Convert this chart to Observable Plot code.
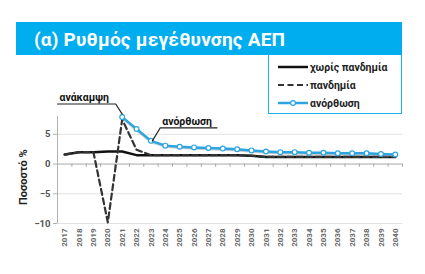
<!DOCTYPE html>
<html>
<head>
<meta charset="utf-8">
<script src="https://cdn.jsdelivr.net/npm/d3@7"></script>
<script src="https://cdn.jsdelivr.net/npm/@observablehq/plot@0.6"></script>
<style>
  html, body { margin: 0; padding: 0; background: #fff; }
  body { width: 425px; height: 274px; position: relative; overflow: hidden; font-family: Roboto, "Noto Sans", sans-serif; }
  #title { position: absolute; left: 16px; top: 22px; width: 368px; height: 33px; background: #00aeef; color: #fff;
           font: bold 19px Roboto, sans-serif; line-height: 35px; padding-left: 18px; letter-spacing: 0.2px; }
  #legend { position: absolute; left: 268px; top: 55px; width: 132px; height: 58px; border: 1.5px solid #20b0e8; border-top: none; background: #fff; }
  .item { position: absolute; left: 9px; height: 14px; display: flex; align-items: center; font: bold 10.5px Roboto, sans-serif; color: #222; letter-spacing: 0px; }
  .item svg { margin-right: 2px; }
  #chart { position: absolute; left: 0; top: 0; }
</style>
</head>
<body>
<div id="chart"></div>
<div id="title">(α) Ρυθμός μεγέθυνσης ΑΕΠ</div>
<div id="legend"></div>
<script>
const years = [2017,2018,2019,2020,2021,2022,2023,2024,2025,2026,2027,2028,2029,2030,2031,2032,2033,2034,2035,2036,2037,2038,2039,2040];
const noPandemic = [1.6,2.0,2.0,2.1,2.1,1.5,1.5,1.5,1.5,1.5,1.5,1.5,1.5,1.4,1.2,1.2,1.2,1.2,1.2,1.2,1.2,1.2,1.2,1.2];
const pandemicYears = [2017,2018,2019,2020,2021,2022,2023,2024,2025,2026,2027,2028,2029,2030,2031,2032,2033,2034,2035,2036,2037,2038,2039,2040];
const pandemic = [1.6,2.0,2.0,-9.8,7.5,2.4,1.5,1.5,1.5,1.5,1.5,1.5,1.5,1.4,1.2,1.2,1.2,1.2,1.2,1.2,1.2,1.2,1.2,1.2];
const recoveryYears = [2021,2022,2023,2024,2025,2026,2027,2028,2029,2030,2031,2032,2033,2034,2035,2036,2037,2038,2039,2040];
const recovery = [7.9,5.9,3.9,3.1,2.9,2.8,2.7,2.6,2.5,2.3,2.1,2.0,2.0,1.9,1.9,1.8,1.8,1.8,1.7,1.6];
const yTicks = [-10,-5,0,5];
const seriesNames = ["χωρίς πανδημία","πανδημία","ανόρθωση"];
const yLabel = "Ποσοστό %";
// callouts in data units: label and leader path
const callouts = [
  {label: "ανάκαμψη", path: [[2016.5,10.1],[2020.55,10.1],[2021,8.4]], textAt: 0},
  {label: "ανόρθωση", path: [[2023.1,3.9],[2023.65,6.1],[2027.6,6.1]], textAt: 1}
];

const blue = "#2ca5e2";
const rows = (xs, vs) => xs.map((x, i) => ({x, y: vs[i]}));
const base = rows(years, noPandemic);
const pand = rows(pandemicYears, pandemic);
const rec = rows(recoveryYears, recovery);
const boundaries = years.map(y => y + 0.5);

const calloutPaths = callouts.flatMap((c, k) => c.path.map(([x, y]) => ({k, x, y})));
const calloutText = callouts.map(c => ({label: c.label, x: c.path[c.textAt][0], y: c.path[c.textAt][1]}));

const chart = Plot.plot({
  width: 425, height: 274,
  marginLeft: 57, marginRight: 23, marginTop: 116, marginBottom: 51,
  style: {fontFamily: "Roboto, sans-serif", background: "transparent", overflow: "visible"},
  x: {domain: [2016.5, 2040.5]},
  y: {domain: [-10, 8]},
  marks: [
    Plot.ruleY([-10, -5, 5], {stroke: "#e2e2e2", strokeWidth: 1}),
    Plot.ruleX([2016.5], {y1: -10, y2: 8, stroke: "#b0b0b0", strokeWidth: 1}),
    Plot.ruleY([0], {stroke: "#a8a8a8", strokeWidth: 1}),
    Plot.ruleX(boundaries, {x: d => d, y1: 0, y2: -0.55, stroke: "#a8a8a8", strokeWidth: 1}),
    Plot.axisY({ticks: yTicks, tickSize: 4, tickPadding: 3, fontSize: 9.5, fontWeight: "bold", fill: "#555", stroke: "#b0b0b0", label: null}),
    Plot.axisX({ticks: years, tickFormat: d => String(d), tickRotate: -90, tickSize: 0, tickPadding: 5, fontSize: 8, fontWeight: "bold", fill: "#666", label: null}),
    Plot.text([yLabel], {x: () => 2014.1, y: () => -2.2, rotate: -90, fontSize: 11, fontWeight: "bold", fill: "#222", clip: false}),
    Plot.line(base, {x: "x", y: "y", stroke: "#111", strokeWidth: 2.5}),
    Plot.line(pand, {x: "x", y: "y", stroke: "#333", strokeWidth: 2.2, strokeDasharray: "6,3.5"}),
    Plot.line(rec, {x: "x", y: "y", stroke: "#999", strokeWidth: 2.5, dy: 1, strokeOpacity: 0.5}),
    Plot.line(rec, {x: "x", y: "y", stroke: blue, strokeWidth: 2.5}),
    Plot.dot(rec, {x: "x", y: "y", r: 2.4, fill: "#fff", stroke: blue, strokeWidth: 1.2}),
    Plot.line(calloutPaths, {x: "x", y: "y", z: "k", stroke: "#222", strokeWidth: 1.2, clip: false}),
    Plot.text(calloutText, {x: "x", y: "y", text: "label", textAnchor: "start", lineAnchor: "bottom", dx: 2, dy: -3, fontSize: 10.5, fontWeight: "bold", fill: "#111"})
  ]
});
document.getElementById("chart").appendChild(chart);

// legend
const legend = document.getElementById("legend");
const samples = [
  `<svg width="30" height="8"><line x1="0" y1="4" x2="30" y2="4" stroke="#111" stroke-width="2.5"/></svg>`,
  `<svg width="30" height="8"><line x1="0" y1="4" x2="30" y2="4" stroke="#333" stroke-width="2.2" stroke-dasharray="6,3.5"/></svg>`,
  `<svg width="30" height="8"><line x1="0" y1="4" x2="30" y2="4" stroke="${blue}" stroke-width="2.5"/><circle cx="15" cy="4" r="2.4" fill="#fff" stroke="${blue}" stroke-width="1.2"/></svg>`
];
const tops = [5, 23, 41];
seriesNames.forEach((n, i) => {
  const d = document.createElement("div");
  d.className = "item";
  d.style.top = tops[i] + "px";
  d.innerHTML = samples[i] + `<span>${n}</span>`;
  legend.appendChild(d);
});
</script>
</body>
</html>
